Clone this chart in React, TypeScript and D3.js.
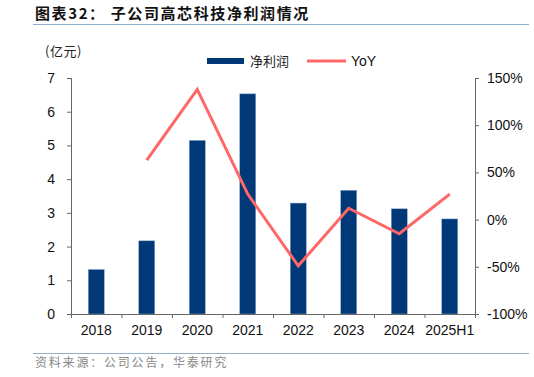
import React from "react";
import * as d3 from "d3";

const categories = ["2018", "2019", "2020", "2021", "2022", "2023", "2024", "2025H1"];
const profit = [1.32, 2.17, 5.15, 6.53, 3.29, 3.67, 3.12, 2.82];
const yoy = [null, 63, 138, 27, -49, 12, -15, 27];
const leftTicks = [0, 1, 2, 3, 4, 5, 6, 7];
const rightTicks = [-100, -50, 0, 50, 100, 150];

const W = 534;
const H = 377;
const L = 71;
const R = 475;
const T = 78;
const B = 314;

export default function App() {
  const x = d3.scaleBand<string>().domain(categories).range([L, R]).padding(0);
  const yL = d3.scaleLinear().domain([0, 7]).range([B, T]);
  const yR = d3.scaleLinear().domain([-100, 150]).range([B, T]);
  const barW = 16;
  const pts = categories
    .map((c, i) => ({ c, v: yoy[i] }))
    .filter((d) => d.v !== null) as { c: string; v: number }[];
  const line = d3
    .line<{ c: string; v: number }>()
    .x((d) => (x(d.c) as number) + x.bandwidth() / 2)
    .y((d) => yR(d.v));
  const font = "Liberation Sans, Arial, sans-serif";
  const cjk = "Noto Sans CJK SC, sans-serif";
  const axisColor = "#666";
  return (
    <svg
      width={W}
      height={H}
      style={{ position: "absolute", left: 0, top: 0, background: "#fff" }}
    >
      {/* title */}
      <text x={35} y={19} fontFamily={cjk} fontWeight="bold" fontSize={15} letterSpacing={1.6} fill="#111">
        图表32：  子公司高芯科技净利润情况
      </text>
      <line x1={33} x2={529} y1={24.5} y2={24.5} stroke="#8FAFCB" strokeWidth={1} />

      {/* unit */}
      <text x={45} y={56} fontFamily={cjk} fontSize={13} letterSpacing={0.5} fill="#222">
        (亿元)
      </text>

      {/* legend */}
      <rect x={207} y={58} width={37} height={6} fill="#003878" />
      <text x={250} y={65.5} fontFamily={cjk} fontSize={13} fill="#222">
        净利润
      </text>
      <line x1={307} x2={346} y1={61} y2={61} stroke="#FF6666" strokeWidth={3} />
      <text x={351} y={66} fontFamily={font} fontSize={14} fill="#111">
        YoY
      </text>

      {/* bars */}
      {categories.map((c, i) => (
        <rect
          key={c}
          x={(x(c) as number) + x.bandwidth() / 2 - barW / 2}
          y={yL(profit[i])}
          width={barW}
          height={B - yL(profit[i])}
          fill="#003878"
          stroke="#8aa6c8"
          strokeWidth={0.5}
        />
      ))}

      {/* line */}
      <path d={line(pts) || ""} fill="none" stroke="#FF6666" strokeWidth={3} strokeLinejoin="miter" />

      {/* left axis */}
      <line x1={L + 0.5} x2={L + 0.5} y1={T} y2={B} stroke={axisColor} />
      {leftTicks.map((t) => (
        <g key={t}>
          <line x1={L - 4} x2={L} y1={yL(t) + 0.5} y2={yL(t) + 0.5} stroke={axisColor} />
          <text
            x={55}
            y={yL(t) + 5}
            textAnchor="end"
            fontFamily={font}
            fontSize={14}
            fill="#111"
          >
            {t}
          </text>
        </g>
      ))}

      {/* right axis */}
      <line x1={R + 0.5} x2={R + 0.5} y1={T} y2={B} stroke={axisColor} />
      {rightTicks.map((t) => (
        <g key={t}>
          <line x1={R} x2={R + 4} y1={yR(t) + 0.5} y2={yR(t) + 0.5} stroke={axisColor} />
          <text x={487} y={yR(t) + 5} fontFamily={font} fontSize={14} fill="#111">
            {t}%
          </text>
        </g>
      ))}

      {/* bottom axis */}
      <line x1={L - 4} x2={R + 4} y1={B + 0.5} y2={B + 0.5} stroke={axisColor} />
      {categories.map((c) => (
        <line
          key={"t" + c}
          x1={(x(c) as number) + 0.5}
          x2={(x(c) as number) + 0.5}
          y1={B}
          y2={B + 4}
          stroke={axisColor}
        />
      ))}
      <line x1={R + 0.5} x2={R + 0.5} y1={B} y2={B + 4} stroke={axisColor} />
      {categories.map((c) => (
        <text
          key={"l" + c}
          x={(x(c) as number) + x.bandwidth() / 2}
          y={335}
          textAnchor="middle"
          fontFamily={font}
          fontSize={14}
          fill="#111"
        >
          {c}
        </text>
      ))}

      {/* footer */}
      <line x1={33} x2={529} y1={353.5} y2={353.5} stroke="#8FAFCB" strokeWidth={1} />
      <text x={35} y={367} fontFamily={cjk} fontSize={12} letterSpacing={1.8} fill="#888">
        资料来源：公司公告，华泰研究
      </text>
    </svg>
  );
}
